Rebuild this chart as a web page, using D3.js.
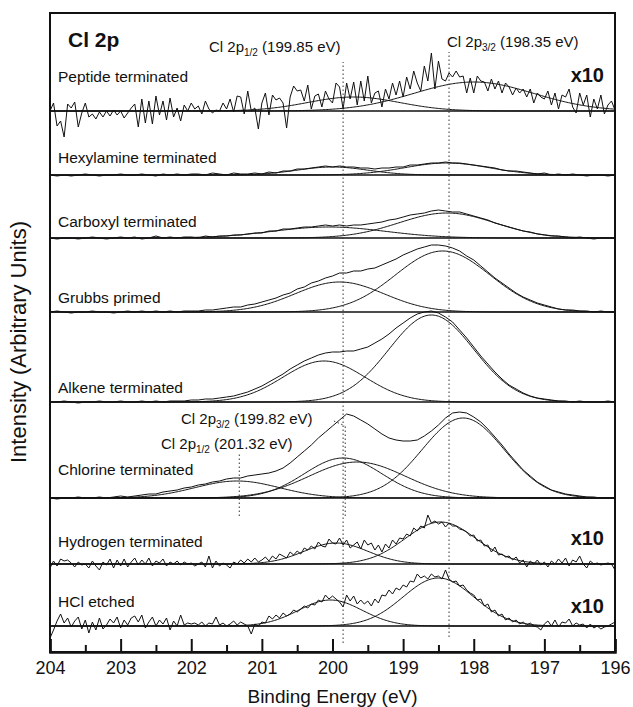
<!DOCTYPE html>
<html><head><meta charset="utf-8">
<script src="https://cdn.jsdelivr.net/npm/d3@7"></script>
<style>body{margin:0;background:#fff}svg{display:block}</style>
</head><body>
<svg id="chart" width="633" height="707"></svg>
<script>
// ---------------- DATA ----------------
const panelNames = ["Peptide terminated","Hexylamine terminated","Carboxyl terminated","Grubbs primed","Alkene terminated","Chlorine terminated","Hydrogen terminated","HCl etched"];
const panelOffsets = [541, 477, 414, 340, 250, 154, 88, 26];     // stacking offsets (a.u.)
const panelMultipliers = ["x10","","","","","","x10","x10"];
const energyMax = 204, energyMin = 196;
const xTickValues = [204,203,202,201,200,199,198,197,196];
const xMinorTickValues = [203.5,202.5,201.5,200.5,199.5,198.5,197.5,196.5];
const fineStep = 0.05, coarseStep = 0.1;

const peptideData = [
0,8,-15,-10,-26,7,3,9,-16,-2,
8,-6,-3,-8,-1,-6,0,-5,1,-4,
0,-7,-2,3,7,-16,12,-12,10,-13,
15,-4,10,-9,13,-6,3,-10,6,0,
8,2,5,-3,10,2,-2,1,0,8,
2,12,-1,15,14,-3,20,0,3,-18,
8,18,-4,16,11,13,8,-17,14,25,
20,21,10,26,2,15,17,4,20,12,
8,28,24,2,28,12,29,6,30,10,
35,8,18,20,4,22,12,28,16,30,
14,34,22,40,28,20,45,30,58,22,
50,32,30,38,34,40,34,35,18,33,
18,35,30,29,20,32,22,30,18,28,
24,16,23,18,22,14,22,8,18,14,
12,20,6,18,2,16,14,22,4,-2,
18,6,16,-6,12,2,16,-3,6,10,
1];
const hexylamineData = [
0,-1,0,-1,0,1,0,-1,0,0,
1,0,0,1,0,-1,1,0,1,0,
1,1,0,2,1,0,2,1,1,2,
1,3,2,4,4,6,6,7,8,9,
8,9,8,8,7,7,6,7,7,8,
8,10,10,11,12,12,13,12,12,11,
10,9,8,7,5,4,4,3,2,1,
2,0,1,0,1,0,-1,0,0,-1,
0];
const carboxylData = [
0,-1,0,0,-1,0,1,0,-1,0,
1,0,1,-1,0,2,0,1,0,1,
1,0,2,1,2,2,3,3,4,5,
5,7,7,9,9,10,11,11,12,13,
12,13,12,13,13,14,15,16,18,19,
21,23,24,25,27,28,27,26,26,24,
22,20,18,15,13,11,9,7,6,4,
3,2,2,1,0,1,0,-1,0,0,
0];
const grubbsData = [
0,1,0,-1,0,0,1,0,0,-1,
0,1,0,1,0,1,0,1,0,1,
1,1,2,2,3,4,5,5,7,8,
10,12,14,17,19,23,25,29,31,34,
36,39,39,41,41,43,44,47,50,53,
57,60,63,65,67,67,66,64,61,56,
52,46,40,34,29,24,19,15,12,9,
7,5,3,2,2,1,1,0,1,0,
0];
const alkeneData = [
0,0,1,0,-1,0,0,1,0,0,
1,0,0,1,0,1,0,1,1,1,
2,2,3,3,4,5,6,8,10,13,
16,20,24,28,33,37,41,44,47,49,
50,50,51,51,53,55,59,63,68,74,
79,84,88,90,91,89,85,80,72,64,
55,46,38,30,23,17,13,9,6,4,
3,2,1,1,0,1,0,0,0,1,
0];
const chlorineData = [
0,-1,0,0,1,0,0,1,0,1,
2,1,2,3,4,4,6,7,8,10,
11,13,14,16,17,19,20,20,22,23,
24,25,27,30,35,41,47,53,60,66,
72,78,84,82,78,74,69,64,60,58,
57,57,58,62,67,73,80,85,86,85,
81,76,69,61,53,44,36,28,22,16,
12,8,6,4,3,2,1,1,0,0,
0];
const hydrogenData = [
-4,3,-2,5,3,4,1,-3,2,-1,
0,-4,3,-2,-6,2,-1,5,-4,4,
-2,5,-3,2,6,-1,4,0,6,-2,
3,1,5,-2,2,0,3,-1,2,0,
1,-2,0,2,-3,8,-4,3,-2,1,
-1,-4,2,0,4,1,5,2,6,2,
4,7,3,8,5,10,8,6,12,9,
13,10,16,14,18,15,22,18,17,25,
21,20,26,19,24,16,19,22,15,24,
19,21,14,19,12,20,16,24,20,26,
25,30,28,36,33,38,36,49,41,43,
40,42,37,41,38,38,35,34,32,28,
29,23,24,18,19,12,17,9,10,7,
8,4,7,1,4,-3,3,0,4,-1,
2,-3,3,0,5,1,6,-2,4,2,
8,0,-4,3,0,1,-1,0,1,0,
-6];
const hclData = [
-12,-4,5,12,3,8,-1,5,9,-3,
6,-7,4,-4,8,-3,1,7,3,9,
-2,6,1,8,10,4,11,-2,4,9,
0,6,2,8,-4,5,0,11,1,3,
2,3,1,4,0,3,2,9,1,3,
0,2,5,1,4,2,0,-8,2,0,
4,3,10,7,11,8,13,10,12,16,
14,17,20,18,22,21,26,24,31,27,
30,27,24,19,31,25,30,22,26,22,
25,20,27,23,31,30,36,32,38,36,
41,39,45,44,52,48,50,47,52,49,
50,47,56,47,44,45,40,41,36,33,
31,26,27,20,22,14,16,10,12,6,
8,4,6,2,4,1,3,0,-1,-4,
2,5,0,6,-1,4,3,7,0,3,
1,2,-2,2,-2,0,-3,-1,0,2,
4];

// fitted components: [centre eV, height a.u., sigma eV]
const peptidePeaks    = [[199.70,14,0.65],[198.00,29,0.85]];
const hexylaminePeaks = [[200.00,8,0.50],[198.38,12,0.60]];
const carboxylPeaks   = [[200.05,11,0.80],[198.38,25,0.68]];
const grubbsPeaks     = [[199.90,30,0.63],[198.44,61,0.67]];
const alkenePeaks     = [[200.12,41,0.58],[198.60,87,0.60]];
const chlorinePeaks   = [[201.35,17,0.60],[199.85,40,0.55],[199.65,36,0.68],[198.15,80,0.58]];
const hydrogenPeaks   = [[199.95,21,0.45],[198.47,42,0.50]];
const hclPeaks        = [[200.03,26,0.45],[198.50,48,0.50]];

const spectra = [peptideData, hexylamineData, carboxylData, grubbsData, alkeneData, chlorineData, hydrogenData, hclData];
const spectraSteps = [fineStep, coarseStep, coarseStep, coarseStep, coarseStep, coarseStep, fineStep, fineStep];
const peakSets = [peptidePeaks, hexylaminePeaks, carboxylPeaks, grubbsPeaks, alkenePeaks, chlorinePeaks, hydrogenPeaks, hclPeaks];

// reference lines: [energy, from a.u., to a.u.]
const refLines = [[199.85, 9, 590],[198.35, 15, 600],[201.32, 136, 199],[199.82, 136, 226]];

// ---------------- CHART ----------------
const W = 633, H = 707;
const m = {left:50, right:18, top:13, bottom:55};
const svg = d3.select("#chart");
const font = "'Liberation Sans', Arial, Helvetica, sans-serif";

const x = d3.scaleLinear().domain([energyMax, energyMin]).range([m.left, W - m.right]);
const y = d3.scaleLinear().domain([0, 639]).range([H - m.bottom, m.top]);

svg.append("defs").append("clipPath").attr("id","clip")
  .append("rect").attr("x", m.left).attr("y", m.top)
  .attr("width", W - m.left - m.right).attr("height", H - m.top - m.bottom);

const plot = svg.append("g").attr("clip-path","url(#clip)");
const gauss = (e, p) => p[1] * Math.exp(-((e - p[0]) ** 2) / (2 * p[2] * p[2]));
const sampleE = d3.range(0, 401).map(i => energyMax - i * 0.02);

spectra.forEach((vals, k) => {
  const off = panelOffsets[k];
  const step = spectraSteps[k];
  plot.append("line")
    .attr("x1", x(energyMax)).attr("x2", x(energyMin))
    .attr("y1", y(off)).attr("y2", y(off))
    .attr("stroke","#111").attr("stroke-width",1.5);
  peakSets[k].forEach(p => {
    plot.append("path")
      .attr("fill","none").attr("stroke","#111").attr("stroke-width",1)
      .attr("d", d3.line().x(e => x(e)).y(e => y(off + gauss(e, p)))(sampleE));
  });
  plot.append("path")
    .datum(vals)
    .attr("fill","none").attr("stroke","#111").attr("stroke-width",1)
    .attr("stroke-linejoin","round")
    .attr("d", d3.line().x((v,i) => x(energyMax - i * step)).y(v => y(off + v)));
});

refLines.forEach(r => {
  svg.append("line")
    .attr("x1", x(r[0])).attr("x2", x(r[0]))
    .attr("y1", y(r[1])).attr("y2", y(r[2]))
    .attr("stroke","#333").attr("stroke-width",1)
    .attr("stroke-dasharray","1.5,2.5");
});
svg.append("line")
  .attr("x1", x(199.98)).attr("y1", y(231))
  .attr("x2", x(199.82)).attr("y2", y(226))
  .attr("stroke","#333").attr("stroke-width",1).attr("stroke-dasharray","1.5,2.5");

svg.append("rect")
  .attr("x", m.left).attr("y", m.top)
  .attr("width", W - m.left - m.right).attr("height", H - m.top - m.bottom)
  .attr("fill","none").attr("stroke","#111").attr("stroke-width",2);

const ax = svg.append("g").attr("transform", `translate(0,${H - m.bottom})`)
  .call(d3.axisBottom(x).tickValues(xTickValues).tickFormat(d3.format("d"))
        .tickSize(-13).tickPadding(9));
ax.select(".domain").attr("stroke","#111").attr("stroke-width",2.5);
ax.selectAll(".tick line").attr("stroke","#111").attr("stroke-width",2);
ax.selectAll(".tick text").attr("font-family", font).attr("font-size", 18).attr("fill","#111");
const axm = svg.append("g").attr("transform", `translate(0,${H - m.bottom})`)
  .call(d3.axisBottom(x).tickValues(xMinorTickValues).tickFormat("").tickSize(-7));
axm.select(".domain").remove();
axm.selectAll(".tick line").attr("stroke","#111").attr("stroke-width",2);

svg.append("text").attr("x", (m.left + W - m.right) / 2).attr("y", 703)
  .attr("text-anchor","middle").attr("font-family", font).attr("font-size", 19)
  .attr("fill","#111").text("Binding Energy (eV)");
svg.append("text").attr("transform", `translate(26,342) rotate(-90)`)
  .attr("text-anchor","middle").attr("font-family", font).attr("font-size", 22)
  .attr("fill","#111").text("Intensity (Arbitrary Units)");

const labelBaselines = [82, 163, 227, 303, 393, 475, 547, 607];
panelNames.forEach((n, k) => {
  svg.append("text").attr("x", 58).attr("y", labelBaselines[k])
    .attr("font-family", font).attr("font-size", 15.5).attr("fill","#111").text(n);
});
const multBaselines = [82, null, null, null, null, null, 545, 613];
panelMultipliers.forEach((t, k) => {
  if (!t) return;
  svg.append("text").attr("x", 604).attr("y", multBaselines[k]).attr("text-anchor","end")
    .attr("font-family", font).attr("font-size", 20).attr("font-weight","bold")
    .attr("fill","#111").text(t);
});

svg.append("text").attr("x", 68).attr("y", 47)
  .attr("font-family", font).attr("font-size", 21).attr("font-weight","bold")
  .attr("fill","#111").text("Cl 2p");

function annot(xp, yp, sub, rest) {
  const t = svg.append("text").attr("x", xp).attr("y", yp)
    .attr("font-family", font).attr("font-size", 15).attr("fill","#111");
  t.append("tspan").text("Cl 2p");
  t.append("tspan").attr("font-size", 10).attr("dy", 4).text(sub);
  t.append("tspan").attr("dy", -4).text(rest);
}
annot(209, 52, "1/2", " (199.85 eV)");
annot(447, 47, "3/2", " (198.35 eV)");
annot(181, 424, "3/2", " (199.82 eV)");
annot(161, 449, "1/2", " (201.32 eV)");
</script>
</body></html>
